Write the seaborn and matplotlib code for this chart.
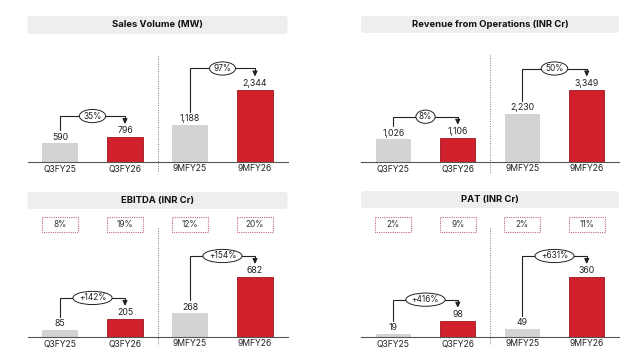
import matplotlib
matplotlib.use("Agg")
import matplotlib.pyplot as plt
import matplotlib.transforms as mtransforms
from matplotlib.patches import FancyBboxPatch, Rectangle
import seaborn as sns

# Data
periods = ["Q3FY25", "Q3FY26", "9MFY25", "9MFY26"]
sales_mw = [590, 796, 1188, 2344]
revenue_cr = [1026, 1106, 2230, 3349]
ebitda_cr = [85, 205, 268, 682]
pat_cr = [19, 98, 49, 360]

sales_growth = ["35%", "97%"]
revenue_growth = ["8%", "50%"]
ebitda_growth = ["+142%", "+154%"]
pat_growth = ["+416%", "+631%"]

ebitda_margin = ["8%", "19%", "12%", "20%"]
pat_margin = ["2%", "9%", "2%", "11%"]

GREY = "#d3d3d3"
RED = "#d0202b"
DARK = "#222222"

sns.set_theme(style="white")
plt.rcParams["font.family"] = ["Inter", "DejaVu Sans"]

fig = plt.figure(figsize=(6.4, 3.6), dpi=100)
fig.patch.set_facecolor("white")

# pixel transform (origin top-left) for slide decorations
px = mtransforms.Affine2D().scale(1 / 640, -1 / 360).translate(0, 1) + fig.transFigure


def px_axes(left, top, right, bottom):
    return fig.add_axes([left / 640, 1 - bottom / 360, (right - left) / 640, (bottom - top) / 360])


def panel(left, right, base, top, max_px, title, title_top, title_bot,
          values, growth, margins=None, margin_top=None, margin_bot=None,
          div_top=None, div_bot=None):
    ax = px_axes(left, top, right, base)
    height_px = base - top
    ymax = max(values) * height_px / max_px
    per_px = max(values) / max_px

    sns.barplot(x=periods, y=values, hue=periods, palette=[GREY, RED, GREY, RED],
                width=0.55, legend=False, ax=ax, saturation=1)
    for i, p in enumerate(ax.patches):
        if i % 2 == 1:
            p.set_edgecolor("#9e1520")
            p.set_linewidth(0.6)
        else:
            p.set_linewidth(0)
    for c in ax.containers:
        ax.bar_label(c, labels=[f"{v:,.0f}" for v in c.datavalues], padding=1.2,
                     fontsize=6.3, color=DARK)

    ax.set_xlim(-0.5, 3.5)
    ax.set_ylim(0, ymax)
    ax.set_yticks([])
    ax.set_xlabel("")
    ax.set_ylabel("")
    for s in ["top", "right", "left"]:
        ax.spines[s].set_visible(False)
    ax.spines["bottom"].set_color("#555555")
    ax.spines["bottom"].set_linewidth(0.8)
    ax.tick_params(axis="x", length=0, pad=1.8, labelsize=6.2, labelcolor=DARK)
    ax.set_facecolor("none")

    # growth connectors
    for k, (i, j) in enumerate([(0, 1), (2, 3)]):
        y0 = values[i] + 13 * per_px
        lvl = values[j] + 21 * per_px
        y1 = values[j] + 13 * per_px
        ax.plot([i, i, j, j], [y0, lvl, lvl, y1 + 3 * per_px], color=DARK, lw=0.8,
                solid_joinstyle="miter")
        ax.annotate("", xy=(j, y1), xytext=(j, y1 + 3.5 * per_px),
                    arrowprops=dict(arrowstyle="-|>,head_length=0.25,head_width=0.12",
                                    color=DARK, lw=0.8, shrinkA=0, shrinkB=0))
        ax.text((i + j) / 2, lvl, growth[k], ha="center", va="center", fontsize=6,
                color=DARK,
                bbox=dict(boxstyle="ellipse,pad=0.02", fc="white", ec=DARK, lw=0.7))

    # title bar
    fig.add_artist(FancyBboxPatch((left, title_top), right - left, title_bot - title_top,
                                  boxstyle="round,pad=0,rounding_size=3", transform=px,
                                  fc="#eeeeee", ec="none"))
    fig.text((left + right) / 2, (title_top + title_bot) / 2, title, transform=px,
             ha="center", va="center", fontsize=6.8, fontweight="bold", color="#111111")

    # margin boxes
    if margins is not None:
        bt = mtransforms.blended_transform_factory(ax.transData, px)
        for i, m in enumerate(margins):
            ax.add_patch(Rectangle((i - 0.28, margin_top), 0.56, margin_bot - margin_top,
                                   transform=bt, fill=False, ec="#c46a78", lw=0.8,
                                   ls=(0, (1, 1)), clip_on=False))
            ax.text(i, (margin_top + margin_bot) / 2, m, transform=bt, ha="center",
                    va="center", fontsize=6, color="#333333")

    # dotted divider between quarter and nine-month blocks
    dt = mtransforms.blended_transform_factory(ax.transData, px)
    ax.plot([1.5, 1.5], [div_top, div_bot], transform=dt, color="#777777", lw=0.7,
            ls=(0, (1, 1.5)), clip_on=False)
    return ax


panel(27.5, 287.5, 161.5, 40, 72, "Sales Volume (MW)", 16, 34,
      sales_mw, sales_growth, div_top=56, div_bot=173)
panel(361, 619, 161.5, 40, 72, "Revenue from Operations (INR Cr)", 16, 33,
      revenue_cr, revenue_growth, div_top=55, div_bot=173)
panel(27.5, 287.5, 337, 240, 60, "EBITDA (INR Cr)", 192, 209,
      ebitda_cr, ebitda_growth, ebitda_margin, 217, 232, div_top=228, div_bot=345)
panel(361, 619, 337, 240, 60, "PAT (INR Cr)", 191, 208,
      pat_cr, pat_growth, pat_margin, 217, 232, div_top=228, div_bot=345)

fig.savefig("out.png", dpi=100, facecolor="white")
